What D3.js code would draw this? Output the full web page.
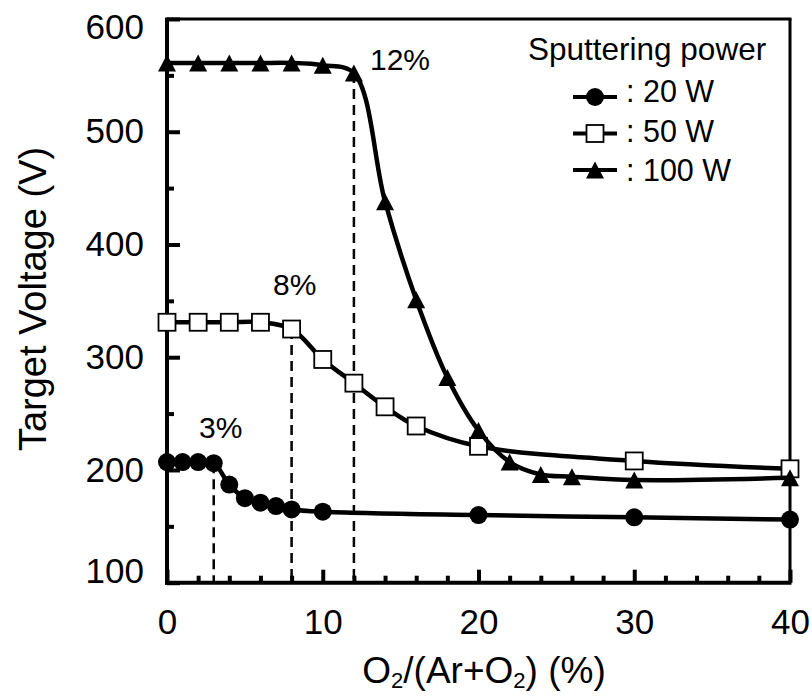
<!DOCTYPE html>
<html>
<head>
<meta charset="utf-8">
<script src="https://cdn.jsdelivr.net/npm/d3@7"></script>
<style>
  html, body { margin: 0; padding: 0; background: #fff; }
  svg { display: block; font-family: "Liberation Sans", Arial, sans-serif; }
</style>
</head>
<body>
<svg id="chart" width="812" height="698"></svg>
<script>
// O2 flow ratio (%) and target voltage (V) for each sputtering power
const pct20 = [0, 1, 2, 3, 4, 5, 6, 7, 8, 10, 20, 30, 40];
const volt20 = [207, 207, 207, 206, 187, 175, 171, 168, 165, 163, 160, 158, 156];

const pct50 = [0, 2, 4, 6, 8, 10, 12, 14, 16, 20, 30, 40];
const volt50 = [331, 331, 331, 331, 325, 298, 277, 256, 239, 221, 208, 201];

const pct100 = [0, 2, 4, 6, 8, 10, 12, 14, 16, 18, 20, 22, 24, 26, 30, 40];
const volt100 = [561, 561, 561, 561, 561, 559, 552, 438, 351, 282, 235, 207, 196, 194, 191, 193];

const seriesNames = [": 20 W", ": 50 W", ": 100 W"];
const legendTitle = "Sputtering power";

// transition points marked with dashed drop lines
const transitionPct = [3, 8, 12];
const transitionLabels = ["3%", "8%", "12%"];

const xTicks = [0, 10, 20, 30, 40];
const yTicks = [100, 200, 300, 400, 500, 600];

(function () {
  const svg = d3.select("#chart");
  const plotLeft = 167, plotRight = 790, plotTop = 19, plotBottom = 582.7;

  const x = d3.scaleLinear().domain([0, 40]).range([plotLeft, plotRight]);
  const y = d3.scaleLinear().domain([100, 600]).range([plotBottom, plotTop]);

  const zip = (xs, ys) => xs.map((d, i) => ({ x: d, y: ys[i] }));
  const series = [
    { name: seriesNames[0], data: zip(pct20, volt20), marker: "circle" },
    { name: seriesNames[1], data: zip(pct50, volt50), marker: "square" },
    { name: seriesNames[2], data: zip(pct100, volt100), marker: "triangle" }
  ];

  // ---- axes ----
  const minorX = d3.range(0, 41, 2).filter(v => v % 10 !== 0);
  const minorY = d3.range(150, 600, 100);

  svg.append("g").attr("transform", `translate(0,${plotBottom})`)
    .call(d3.axisBottom(x).tickValues(xTicks).tickSizeInner(-13).tickSizeOuter(0).tickPadding(26));
  svg.append("g").attr("transform", `translate(0,${plotBottom})`)
    .call(d3.axisBottom(x).tickValues(minorX).tickSizeInner(-7).tickSizeOuter(0).tickFormat(""));

  const gy = svg.append("g").attr("transform", `translate(${plotLeft},0)`)
    .call(d3.axisLeft(y).tickValues(yTicks).tickSizeInner(-13).tickSizeOuter(0).tickPadding(23));
  svg.append("g").attr("transform", `translate(${plotLeft},0)`)
    .call(d3.axisLeft(y).tickValues(minorY).tickSizeInner(-7).tickSizeOuter(0).tickFormat(""));

  svg.selectAll(".domain").remove();
  svg.selectAll(".tick line").attr("stroke", "#000").attr("stroke-width", 4);
  svg.selectAll(".tick text").attr("fill", "#000").attr("font-size", 35)
    .attr("font-family", "'Liberation Sans', Arial, sans-serif");

  // keep the end labels of the value axis inside the frame height
  gy.selectAll(".tick text").attr("y", d => {
    const ty = y(d);
    return Math.min(Math.max(ty, 27), 571) - ty;
  });

  // frame
  svg.append("line").attr("x1", plotLeft).attr("x2", plotLeft).attr("y1", plotTop - 1.5).attr("y2", plotBottom + 2)
    .attr("stroke", "#000").attr("stroke-width", 4);
  svg.append("line").attr("x1", plotLeft - 2).attr("x2", plotRight + 1.5).attr("y1", plotBottom).attr("y2", plotBottom)
    .attr("stroke", "#000").attr("stroke-width", 4);
  svg.append("line").attr("x1", plotLeft).attr("x2", plotRight + 1.5).attr("y1", plotTop).attr("y2", plotTop)
    .attr("stroke", "#000").attr("stroke-width", 3);
  svg.append("line").attr("x1", plotRight).attr("x2", plotRight).attr("y1", plotTop).attr("y2", plotBottom)
    .attr("stroke", "#000").attr("stroke-width", 3);

  // ---- dashed drop lines at the transition points ----
  transitionPct.forEach((p, i) => {
    const pt = series[i].data.find(d => d.x === p);
    svg.append("line")
      .attr("x1", x(p)).attr("x2", x(p))
      .attr("y1", y(pt.y)).attr("y2", plotBottom)
      .attr("stroke", "#000").attr("stroke-width", 2.5)
      .attr("stroke-dasharray", "10,6");
  });

  // ---- markers ----
  function drawMarker(g, type, cx, cy) {
    if (type === "circle") {
      g.append("circle").attr("cx", cx).attr("cy", cy).attr("r", 9).attr("fill", "#000");
    } else if (type === "square") {
      g.append("rect").attr("x", cx - 8.5).attr("y", cy - 8.5).attr("width", 17).attr("height", 17)
        .attr("fill", "#fff").attr("stroke", "#000").attr("stroke-width", 1.8);
    } else {
      const w = 18, h = 17;
      g.append("path")
        .attr("d", `M${cx},${cy - h / 2}L${cx + w / 2},${cy + h / 2}L${cx - w / 2},${cy + h / 2}Z`)
        .attr("fill", "#000");
    }
  }

  const line = d3.line().x(d => x(d.x)).y(d => y(d.y)).curve(d3.curveCatmullRom.alpha(0.5));

  series.forEach(s => {
    const g = svg.append("g");
    g.append("path").attr("d", line(s.data))
      .attr("fill", "none").attr("stroke", "#000").attr("stroke-width", 4.5);
    s.data.forEach(d => drawMarker(g, s.marker, x(d.x), y(d.y)));
  });

  // ---- transition labels ----
  const labelPos = [[199, 438], [273, 295], [370, 70]];
  transitionLabels.forEach((t, i) => {
    svg.append("text").attr("x", labelPos[i][0]).attr("y", labelPos[i][1])
      .attr("font-size", 30).attr("fill", "#000").text(t);
  });

  // ---- legend ----
  svg.append("text").attr("x", 528).attr("y", 60).attr("font-size", 31.5).attr("fill", "#000").text(legendTitle);
  const legendRows = [97, 133.5, 170];
  const legendText = [102, 141.5, 181];
  series.forEach((s, i) => {
    const g = svg.append("g");
    g.append("line").attr("x1", 573).attr("x2", 617).attr("y1", legendRows[i]).attr("y2", legendRows[i])
      .attr("stroke", "#000").attr("stroke-width", 4);
    drawMarker(g, s.marker, 595, legendRows[i]);
    g.append("text").attr("x", 626).attr("y", legendText[i]).attr("font-size", 30.5)
      .attr("fill", "#000").text(s.name);
  });

  // ---- axis titles ----
  svg.append("text")
    .attr("transform", "translate(46,299) rotate(-90)")
    .attr("text-anchor", "middle").attr("font-size", 38).attr("fill", "#000")
    .text("Target Voltage (V)");

  const xt = svg.append("text").attr("x", 484).attr("y", 683)
    .attr("text-anchor", "middle").attr("font-size", 37).attr("fill", "#000");
  xt.append("tspan").text("O");
  xt.append("tspan").attr("font-size", 22).attr("dy", 5).text("2");
  xt.append("tspan").attr("dy", -5).text("/(Ar+O");
  xt.append("tspan").attr("font-size", 22).attr("dy", 5).text("2");
  xt.append("tspan").attr("dy", -5).text(") (%)");
})();
</script>
</body>
</html>
